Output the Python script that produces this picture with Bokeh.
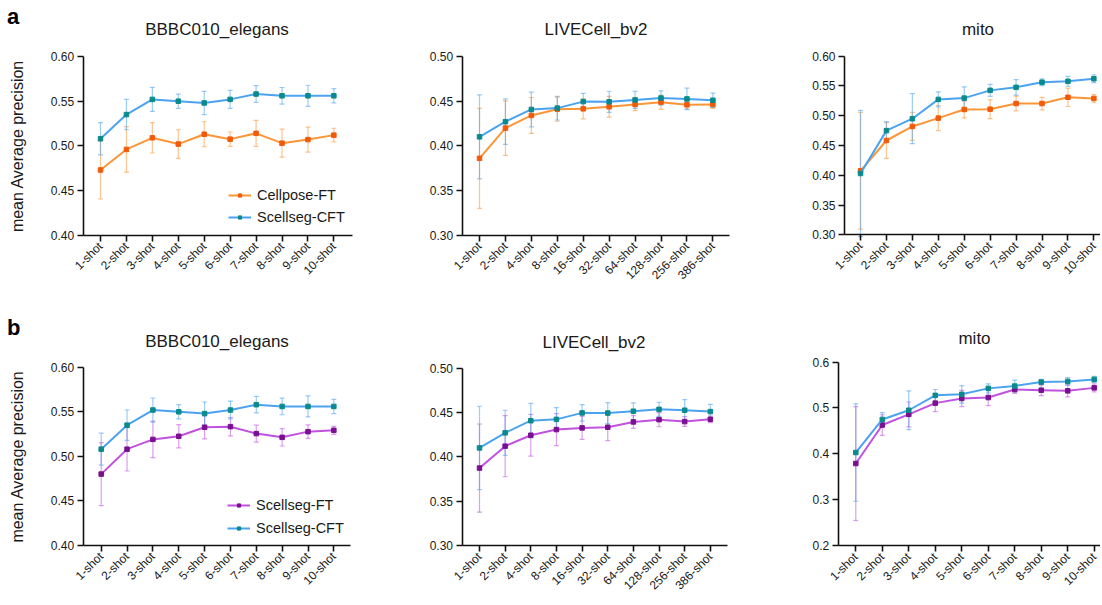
from math import pi
from bokeh.plotting import figure
from bokeh.models import (Range1d, FixedTicker, NumeralTickFormatter, Whisker, TeeHead,
                          ColumnDataSource, Legend, LegendItem, Label)
from bokeh.layouts import row, column
from bokeh.embed import file_html
from bokeh.resources import INLINE

FONT = "Liberation Sans"

# ---------------- data ----------------
shots_10 = ["1-shot", "2-shot", "3-shot", "4-shot", "5-shot", "6-shot", "7-shot", "8-shot", "9-shot", "10-shot"]
shots_live = ["1-shot", "2-shot", "4-shot", "8-shot", "16-shot", "32-shot", "64-shot", "128-shot", "256-shot", "386-shot"]

# BBBC010_elegans
elegans_cft = [0.508, 0.535, 0.552, 0.550, 0.548, 0.552, 0.558, 0.556, 0.556, 0.556]
elegans_cft_err = [0.018, 0.017, 0.0135, 0.008, 0.013, 0.010, 0.0093, 0.0093, 0.0118, 0.008]
elegans_cellpose_ft = [0.473, 0.496, 0.509, 0.502, 0.513, 0.5075, 0.514, 0.503, 0.507, 0.512]
elegans_cellpose_ft_err = [0.0325, 0.0255, 0.017, 0.016, 0.014, 0.008, 0.0145, 0.0157, 0.014, 0.0077]
elegans_scellseg_ft = [0.480, 0.508, 0.519, 0.5225, 0.5326, 0.5333, 0.5255, 0.5213, 0.5277, 0.5292]
elegans_scellseg_ft_err = [0.0354, 0.0245, 0.0205, 0.013, 0.013, 0.0103, 0.0095, 0.0097, 0.0075, 0.0045]

# LIVECell_bv2
livecell_cft = [0.410, 0.427, 0.4407, 0.4422, 0.4495, 0.4493, 0.4514, 0.4535, 0.4525, 0.451]
livecell_cft_err = [0.047, 0.0255, 0.0195, 0.0133, 0.0093, 0.0118, 0.0095, 0.008, 0.012, 0.008]
livecell_cellpose_ft = [0.386, 0.4198, 0.434, 0.441, 0.4414, 0.4437, 0.4463, 0.4489, 0.4459, 0.4463]
livecell_cellpose_ft_err = [0.056, 0.0306, 0.0201, 0.0135, 0.0112, 0.0116, 0.007, 0.008, 0.0045, 0.0045]
livecell_scellseg_ft = [0.3873, 0.412, 0.4243, 0.4307, 0.4326, 0.4333, 0.4393, 0.4419, 0.4397, 0.4423]
livecell_scellseg_ft_err = [0.0497, 0.0345, 0.0235, 0.018, 0.013, 0.015, 0.0072, 0.008, 0.0055, 0.0037]

# mito
mito_cft = [0.403, 0.475, 0.495, 0.5274, 0.5296, 0.5426, 0.5477, 0.5563, 0.5578, 0.5621]
mito_cft_err = [0.106, 0.015, 0.042, 0.0127, 0.019, 0.010, 0.013, 0.0058, 0.0083, 0.0065]
mito_cellpose_ft = [0.4075, 0.4584, 0.482, 0.496, 0.5105, 0.511, 0.5205, 0.5205, 0.531, 0.529]
mito_cellpose_ft_err = [0.098, 0.03, 0.0235, 0.021, 0.014, 0.016, 0.0125, 0.0105, 0.0155, 0.0065]
mito_scellseg_ft = [0.3791, 0.4628, 0.486, 0.5105, 0.5206, 0.5227, 0.5401, 0.5386, 0.5372, 0.5437]
mito_scellseg_ft_err = [0.124, 0.0224, 0.027, 0.0185, 0.0177, 0.0176, 0.0083, 0.0116, 0.013, 0.0085]

# ---------------- styles ----------------
COLORS = {
    "Cellpose-FT": ("#FA9638", "#F25A0A"),
    "Scellseg-CFT": ("#4BA3F0", "#0B8A8C"),
    "Scellseg-FT": ("#C052DF", "#7A108F"),
}
AXIS_COLOR = "#111111"
TEXT_COLOR = "#1a1a1a"


def panel(box, geom, yr_vals, yticks, yfmt, labels, title, title_pos, series,
          ylabel=None, legend=None, letter=None):
    # box: canvas left/top on the page and its size; geom: pixel layout of the axes
    L, T, W, H = box
    axis_px, first_px, spacing, right_px, top_px, bot_px = geom
    v_bot, v_top = yr_vals
    x0 = 1 - (first_px - L) / spacing
    x1 = x0 + W / spacing
    ypp = (v_top - v_bot) / (bot_px - top_px)
    y1 = v_top + (top_px - T) * ypp
    y0 = v_bot - (T + H - bot_px) * ypp

    def X(px):
        return x0 + (px - L) / spacing

    def Y(py):
        return y0 + (T + H - py) * ypp

    p = figure(width=W, height=H, min_border=0, min_border_left=0, min_border_right=0,
               min_border_top=0, min_border_bottom=0,
               x_range=Range1d(x0, x1), y_range=Range1d(y0, y1),
               output_backend="svg", toolbar_location=None)
    p.outline_line_color = None
    p.grid.visible = False
    p.background_fill_color = "white"
    p.border_fill_color = "white"

    xs = list(range(1, len(labels) + 1))
    p.xaxis.ticker = FixedTicker(ticks=xs)
    p.xaxis.major_label_overrides = {x: lab for x, lab in zip(xs, labels)}
    p.xaxis.major_label_orientation = pi / 4
    p.xaxis.fixed_location = v_bot
    p.xaxis.bounds = (X(axis_px), X(right_px))
    p.yaxis.ticker = FixedTicker(ticks=yticks)
    p.yaxis.formatter = NumeralTickFormatter(format=yfmt)
    p.yaxis.fixed_location = X(axis_px)
    p.yaxis.bounds = (v_bot, v_top)
    for ax in (p.xaxis[0], p.yaxis[0]):
        ax.axis_line_width = 1.6
        ax.axis_line_color = AXIS_COLOR
        ax.major_tick_line_color = AXIS_COLOR
        ax.major_tick_line_width = 1.6
        ax.major_tick_out = 6
        ax.major_tick_in = 0
        ax.minor_tick_line_color = None
        ax.major_label_text_font = FONT
        ax.major_label_text_font_size = "12px"
        ax.major_label_text_color = TEXT_COLOR
        ax.major_label_standoff = 3
    if ylabel:
        p.yaxis.axis_label = ylabel
        p.yaxis.axis_label_text_font = FONT
        p.yaxis.axis_label_text_font_size = "16px"
        p.yaxis.axis_label_text_font_style = "normal"
        p.yaxis.axis_label_text_color = TEXT_COLOR
        p.yaxis.axis_label_standoff = 22

    items = []
    for name, means, errs in series:
        lc, mc = COLORS[name]
        src = ColumnDataSource(dict(
            x=xs, y=means,
            upper=[m + e for m, e in zip(means, errs)],
            lower=[m - e for m, e in zip(means, errs)]))
        w = Whisker(base="x", upper="upper", lower="lower", source=src,
                    line_color=lc, line_alpha=0.55, line_width=1.2,
                    upper_head=TeeHead(size=5, line_color=lc, line_alpha=0.55, line_width=1.2),
                    lower_head=TeeHead(size=5, line_color=lc, line_alpha=0.55, line_width=1.2))
        p.add_layout(w)
        ln = p.line("x", "y", source=src, line_color=lc, line_width=2)
        sc = p.scatter("x", "y", source=src, marker="square", size=4.5,
                       fill_color=mc, line_color=mc)
        items.append(LegendItem(label=name, renderers=[ln, sc]))

    # panel title
    tcx, tby = title_pos
    p.add_layout(Label(x=X(tcx), y=Y(tby - 4), text=title, text_align="center",
                       text_baseline="alphabetic", text_font=FONT, text_font_size="17px",
                       text_color=TEXT_COLOR))

    if legend is not None:
        (gx, bottom_cy, sp) = legend
        pad = 3
        lg = Legend(items=items,
                    location=(gx - L - pad, (T + H - bottom_cy) - 8 - pad),
                    padding=pad, margin=0,
                    spacing=sp, glyph_width=23, glyph_height=8, label_height=16,
                    label_standoff=6, label_text_font=FONT, label_text_font_size="14.5px",
                    label_text_color=TEXT_COLOR, border_line_color=None,
                    background_fill_alpha=0)
        p.add_layout(lg)

    if letter is not None:
        (ltext, lx, lby) = letter
        p.add_layout(Label(x=X(lx), y=Y(lby - 5), text=ltext, text_align="left",
                           text_baseline="alphabetic", text_font=FONT,
                           text_font_size="22px", text_font_style="bold",
                           text_color="black"))
    return p


# canvases: (left, top, width, height) on the page
A1, A2, A3 = (0, 0, 380, 300), (380, 0, 380, 300), (760, 0, 340, 300)
B1, B2, B3 = (0, 300, 380, 303), (380, 300, 380, 303), (760, 300, 340, 303)

a1 = panel(A1, (82.7, 100.0, 25.93, 352, 56.0, 234.7), (0.40, 0.60),
           [0.40, 0.45, 0.50, 0.55, 0.60], "0.00", shots_10,
           "BBBC010_elegans", (216.5, 33.3),
           [("Cellpose-FT", elegans_cellpose_ft, elegans_cellpose_ft_err),
            ("Scellseg-CFT", elegans_cft, elegans_cft_err)],
           ylabel="mean Average precision", legend=(231, 213.5, 6), letter=("a", 6.5, 20.7))
a2 = panel(A2, (461.7, 479.0, 25.93, 729, 56.0, 234.6), (0.30, 0.50),
           [0.30, 0.35, 0.40, 0.45, 0.50], "0.00", shots_live,
           "LIVECell_bv2", (595.5, 33.3),
           [("Cellpose-FT", livecell_cellpose_ft, livecell_cellpose_ft_err),
            ("Scellseg-CFT", livecell_cft, livecell_cft_err)])
a3 = panel(A3, (844.0, 860.0, 25.93, 1100, 55.7, 234.3), (0.30, 0.60),
           [0.30, 0.35, 0.40, 0.45, 0.50, 0.55, 0.60], "0.00", shots_10,
           "mito", (977.5, 33.3),
           [("Cellpose-FT", mito_cellpose_ft, mito_cellpose_ft_err),
            ("Scellseg-CFT", mito_cft, mito_cft_err)])

b1 = panel(B1, (82.7, 100.7, 25.85, 350, 366.8, 544.8), (0.40, 0.60),
           [0.40, 0.45, 0.50, 0.55, 0.60], "0.00", shots_10,
           "BBBC010_elegans", (216.5, 345.0),
           [("Scellseg-FT", elegans_scellseg_ft, elegans_scellseg_ft_err),
            ("Scellseg-CFT", elegans_cft, elegans_cft_err)],
           ylabel="mean Average precision", legend=(230, 524.7, 7), letter=("b", 6.5, 331.7))
b2 = panel(B2, (461.5, 479.0, 25.65, 727, 367.6, 545.0), (0.30, 0.50),
           [0.30, 0.35, 0.40, 0.45, 0.50], "0.00", shots_live,
           "LIVECell_bv2", (593.5, 345.5),
           [("Scellseg-FT", livecell_scellseg_ft, livecell_scellseg_ft_err),
            ("Scellseg-CFT", livecell_cft, livecell_cft_err)])
b3 = panel(B3, (837.7, 855.3, 26.49, 1100, 361.5, 545.3), (0.20, 0.60),
           [0.2, 0.3, 0.4, 0.5, 0.6], "0.0", shots_10,
           "mito", (974.0, 342.3),
           [("Scellseg-FT", mito_scellseg_ft, mito_scellseg_ft_err),
            ("Scellseg-CFT", mito_cft, mito_cft_err)])

layout = column(row(a1, a2, a3, spacing=0), row(b1, b2, b3, spacing=0), spacing=0)

open("out.html", "w").write(file_html(layout, INLINE))
